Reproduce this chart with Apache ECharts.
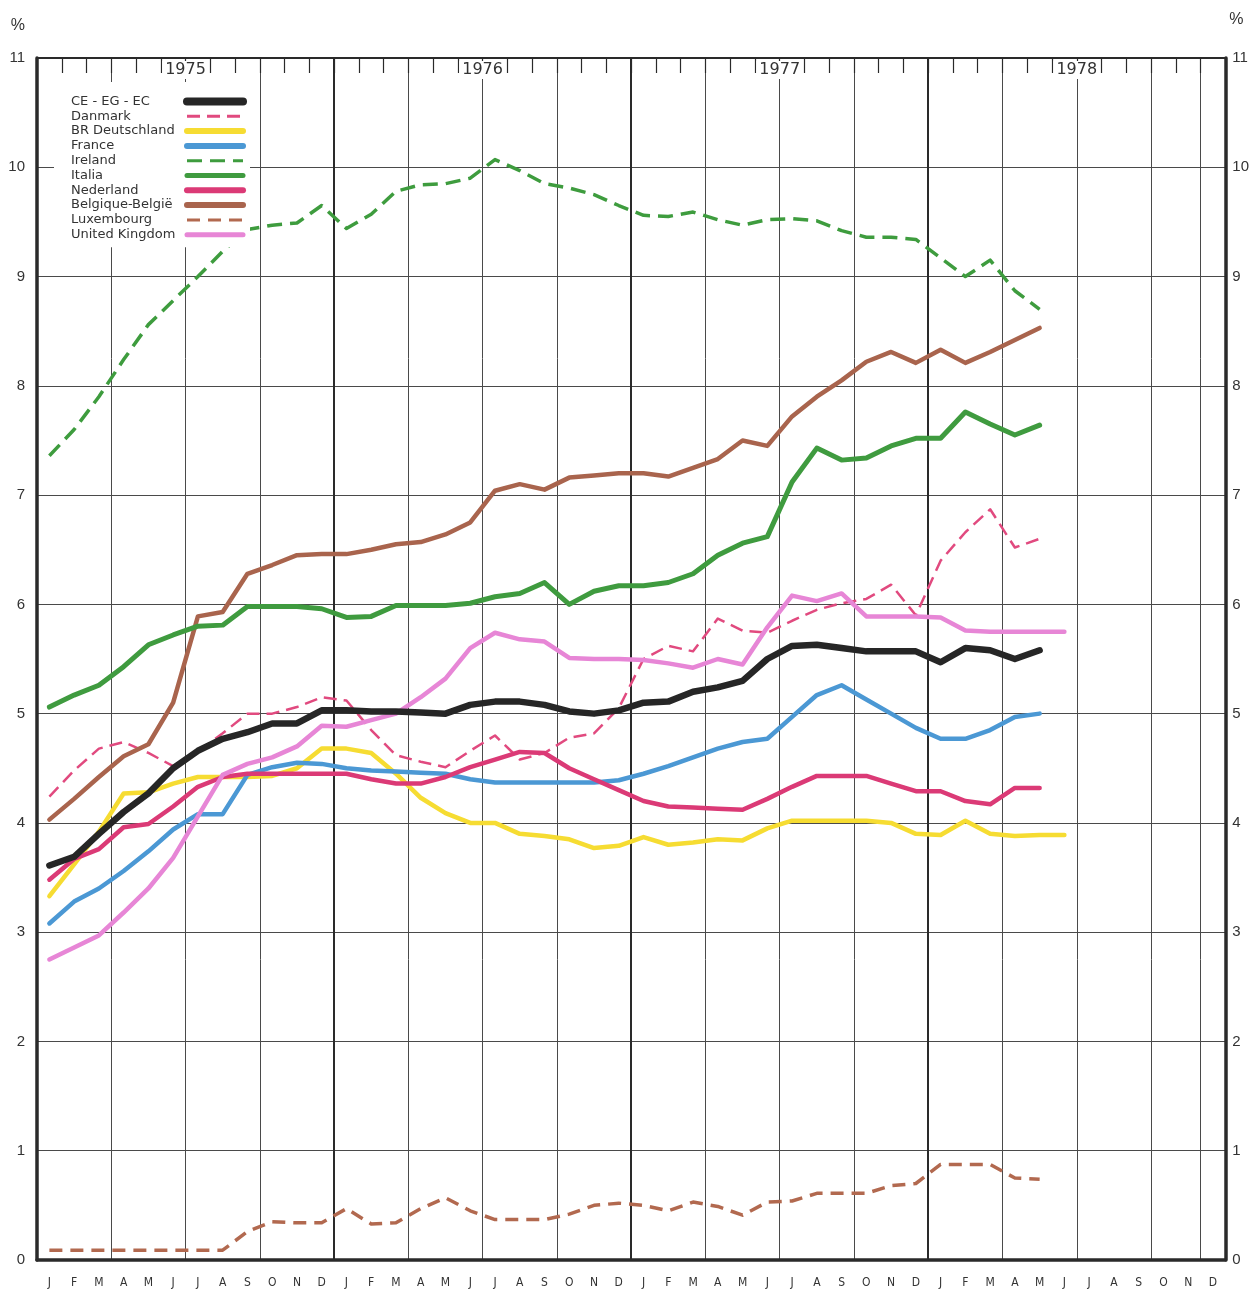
<!DOCTYPE html>
<html>
<head>
<meta charset="utf-8">
<script src="https://cdn.jsdelivr.net/npm/echarts@6.0.0/dist/echarts.min.js"></script>
<style>
  html, body { margin: 0; padding: 0; background: #fff; }
  #chart { width: 1252px; height: 1289px; }
</style>
</head>
<body>
<div id="chart"></div>
<script>
// mois de janvier 1975 à décembre 1978
var months = ['J','F','M','A','M','J','J','A','S','O','N','D',
  'J','F','M','A','M','J','J','A','S','O','N','D',
  'J','F','M','A','M','J','J','A','S','O','N','D',
  'J','F','M','A','M','J','J','A','S','O','N','D']
var years = ['1975', '1976', '1977', '1978']

// taux de chômage (%)
var ceEgEc = [3.61,3.69,3.9,4.1,4.27,4.5,4.66,4.77,4.83,4.91,4.91,5.03,5.03,5.02,5.02,5.01,5.0,5.08,5.11,5.11,5.08,5.02,5.0,5.03,5.1,5.11,5.2,5.24,5.3,5.5,5.62,5.63,5.6,5.57,5.57,5.57,5.47,5.6,5.58,5.5,5.58]
var danmark = [4.24,4.48,4.68,4.74,4.64,4.52,4.65,4.82,5.0,5.0,5.06,5.15,5.12,4.85,4.62,4.56,4.51,4.66,4.8,4.58,4.64,4.78,4.82,5.05,5.5,5.62,5.57,5.87,5.76,5.74,5.85,5.95,6.01,6.05,6.18,5.9,6.4,6.66,6.87,6.52,6.6]
var deutschland = [3.33,3.62,3.92,4.27,4.28,4.36,4.42,4.42,4.42,4.43,4.5,4.68,4.68,4.64,4.45,4.23,4.09,4.0,4.0,3.9,3.88,3.85,3.77,3.79,3.87,3.8,3.82,3.85,3.84,3.95,4.02,4.02,4.02,4.02,4.0,3.9,3.89,4.02,3.9,3.88,3.89,3.89]
var france = [3.08,3.28,3.4,3.56,3.74,3.94,4.08,4.08,4.44,4.51,4.55,4.54,4.5,4.48,4.47,4.46,4.45,4.4,4.37,4.37,4.37,4.37,4.37,4.39,4.45,4.52,4.6,4.68,4.74,4.77,4.97,5.17,5.26,5.13,5.0,4.87,4.77,4.77,4.85,4.97,5.0]
var ireland = [7.36,7.6,7.9,8.24,8.56,8.78,9.0,9.23,9.43,9.47,9.49,9.65,9.44,9.57,9.78,9.84,9.85,9.9,10.07,9.97,9.85,9.81,9.75,9.65,9.56,9.55,9.59,9.52,9.47,9.52,9.53,9.51,9.42,9.36,9.36,9.34,9.17,9.0,9.15,8.87,8.7]
var italia = [5.06,5.17,5.26,5.43,5.63,5.72,5.8,5.81,5.98,5.98,5.98,5.96,5.88,5.89,5.99,5.99,5.99,6.01,6.07,6.1,6.2,6.0,6.12,6.17,6.17,6.2,6.28,6.45,6.56,6.62,7.12,7.43,7.32,7.34,7.45,7.52,7.52,7.76,7.65,7.55,7.64]
var nederland = [3.48,3.67,3.76,3.96,3.99,4.15,4.33,4.42,4.45,4.45,4.45,4.45,4.45,4.4,4.36,4.36,4.42,4.51,4.58,4.65,4.64,4.5,4.4,4.3,4.2,4.15,4.14,4.13,4.12,4.22,4.33,4.43,4.43,4.43,4.36,4.29,4.29,4.2,4.17,4.32,4.32]
var belgique = [4.03,4.22,4.42,4.61,4.72,5.1,5.89,5.93,6.28,6.36,6.45,6.46,6.46,6.5,6.55,6.57,6.64,6.75,7.04,7.1,7.05,7.16,7.18,7.2,7.2,7.17,7.25,7.33,7.5,7.45,7.72,7.9,8.05,8.22,8.31,8.21,8.33,8.21,8.31,8.42,8.53]
var luxembourg = [0.09,0.09,0.09,0.09,0.09,0.09,0.09,0.09,0.26,0.35,0.34,0.34,0.47,0.33,0.34,0.47,0.57,0.45,0.37,0.37,0.37,0.42,0.5,0.52,0.5,0.45,0.53,0.49,0.41,0.53,0.54,0.61,0.61,0.61,0.68,0.7,0.875,0.875,0.875,0.75,0.74]
var unitedKingdom = [2.75,2.86,2.97,3.18,3.4,3.68,4.06,4.44,4.54,4.6,4.7,4.89,4.88,4.94,5.0,5.15,5.32,5.6,5.74,5.68,5.66,5.51,5.5,5.5,5.49,5.46,5.42,5.5,5.45,5.79,6.08,6.03,6.1,5.89,5.89,5.89,5.88,5.76,5.75,5.75,5.75,5.75]

var chart = echarts.init(document.getElementById('chart'))

var ink = '#2a2a2a'
var gridColor = '#4a4a4a'

function line(name, data, color, width, dash) {
  return {
    name: name,
    type: 'line',
    data: data,
    symbol: 'none',
    smooth: false,
    xAxisIndex: 0,
    yAxisIndex: 0,
    lineStyle: {
      color: color,
      width: width,
      type: dash || 'solid',
      cap: dash ? 'butt' : 'round',
      join: 'round'
    },
    itemStyle: { color: color }
  }
}

var series = [
  line('Luxembourg', luxembourg, '#b2694f', 3.5, [13, 8]),
  line('Ireland', ireland, '#3e9c3e', 3.5, [15, 8]),
  line('Danmark', danmark, '#e14a7f', 2.5, [13, 7]),
  line('BR Deutschland', deutschland, '#f6dc32', 4.5),
  line('France', france, '#4b98d4', 4.5),
  line('Nederland', nederland, '#db3a76', 4.5),
  line('United Kingdom', unitedKingdom, '#e786d6', 4.5),
  line('Belgique-België', belgique, '#a9644d', 4.5),
  line('Italia', italia, '#3f9b3f', 5),
  line('CE - EG - EC', ceEgEc, '#262626', 6.5)
]

var legendNames = ['CE - EG - EC', 'Danmark', 'BR Deutschland', 'France', 'Ireland',
  'Italia', 'Nederland', 'Belgique-België', 'Luxembourg', 'United Kingdom']
var legendWidths = [8, 3, 6, 6, 3, 5, 6, 6, 3, 5]

// 1 trait épais par année sur l'axe du haut (0..48 mois)
var yearLineColors = [ink]
for (var k = 1; k < 12; k++) yearLineColors.push('rgba(0,0,0,0)')

var option = {
  backgroundColor: '#fff',
  animation: false,
  grid: { left: 37, right: 24, top: 58, bottom: 29 },
  legend: {
    orient: 'vertical',
    left: 54,
    top: 82,
    padding: [13, 3, 6, 17],
    backgroundColor: '#fff',
    align: 'right',
    itemWidth: 56,
    itemHeight: 9,
    itemGap: 1.8,
    selectedMode: false,
    itemStyle: { opacity: 0 },
    formatter: function (name) { return '{n|' + name + '}' },
    textStyle: {
      color: '#333',
      fontFamily: 'DejaVu Sans',
      fontSize: 13,
      rich: { n: { width: 111, align: 'left', fontSize: 13, fontFamily: 'DejaVu Sans', color: '#333' } }
    },
    data: legendNames.map(function (n, i) {
      return { name: n, lineStyle: { width: legendWidths[i] } }
    })
  },
  xAxis: [
    {
      type: 'category',
      data: months,
      position: 'bottom',
      boundaryGap: true,
      axisLine: { onZero: false, lineStyle: { color: ink, width: 3.5 } },
      axisTick: { inside: true, length: 14, interval: 0, lineStyle: { color: ink, width: 1.2 } },
      axisLabel: { interval: 0, color: '#333', fontSize: 12, fontFamily: 'DejaVu Sans Condensed', margin: 17 },
      splitLine: { show: true, interval: 2, lineStyle: { color: gridColor, width: 1 } }
    },
    {
      type: 'value',
      position: 'top',
      min: 0,
      max: 48,
      interval: 1,
      axisLine: { show: true, onZero: false, lineStyle: { color: ink, width: 2 } },
      axisTick: { show: true, inside: true, length: 15, lineStyle: { color: ink, width: 1.2 } },
      axisLabel: {
        inside: true,
        margin: 3,
        showMinLabel: false,
        showMaxLabel: false,
        formatter: function (v) {
          return (v % 12 === 6) ? '{y|' + years[(v - 6) / 12] + '}' : ''
        },
        rich: {
          y: {
            color: '#333',
            fontSize: 16,
            fontFamily: 'DejaVu Sans',
            backgroundColor: '#fff',
            padding: [1, 3, 1, 3]
          }
        }
      },
      splitLine: { show: true, lineStyle: { color: yearLineColors, width: 2 } }
    }
  ],
  yAxis: [
    {
      type: 'value',
      min: 0,
      max: 11,
      interval: 1,
      position: 'left',
      name: '%',
      nameLocation: 'end',
      nameGap: 24,
      nameTextStyle: { color: '#333', fontSize: 16, align: 'right', padding: [0, 12, 0, 0] },
      axisLine: { show: true, onZero: false, lineStyle: { color: ink, width: 3.5 } },
      axisTick: { show: false },
      axisLabel: { color: '#333', fontSize: 15, fontFamily: 'Liberation Sans', margin: 12 },
      splitLine: { show: true, lineStyle: { color: gridColor, width: 1 } }
    },
    {
      type: 'value',
      min: 0,
      max: 11,
      interval: 1,
      position: 'right',
      name: '%',
      nameLocation: 'end',
      nameGap: 30,
      nameTextStyle: { color: '#333', fontSize: 16, align: 'left', padding: [0, 0, 0, 4] },
      axisLine: { show: true, onZero: false, lineStyle: { color: ink, width: 3.5 } },
      axisTick: { show: false },
      axisLabel: { color: '#333', fontSize: 15, fontFamily: 'Liberation Sans', margin: 7 },
      splitLine: { show: false }
    }
  ],
  series: series
}

chart.setOption(option)
</script>
</body>
</html>
